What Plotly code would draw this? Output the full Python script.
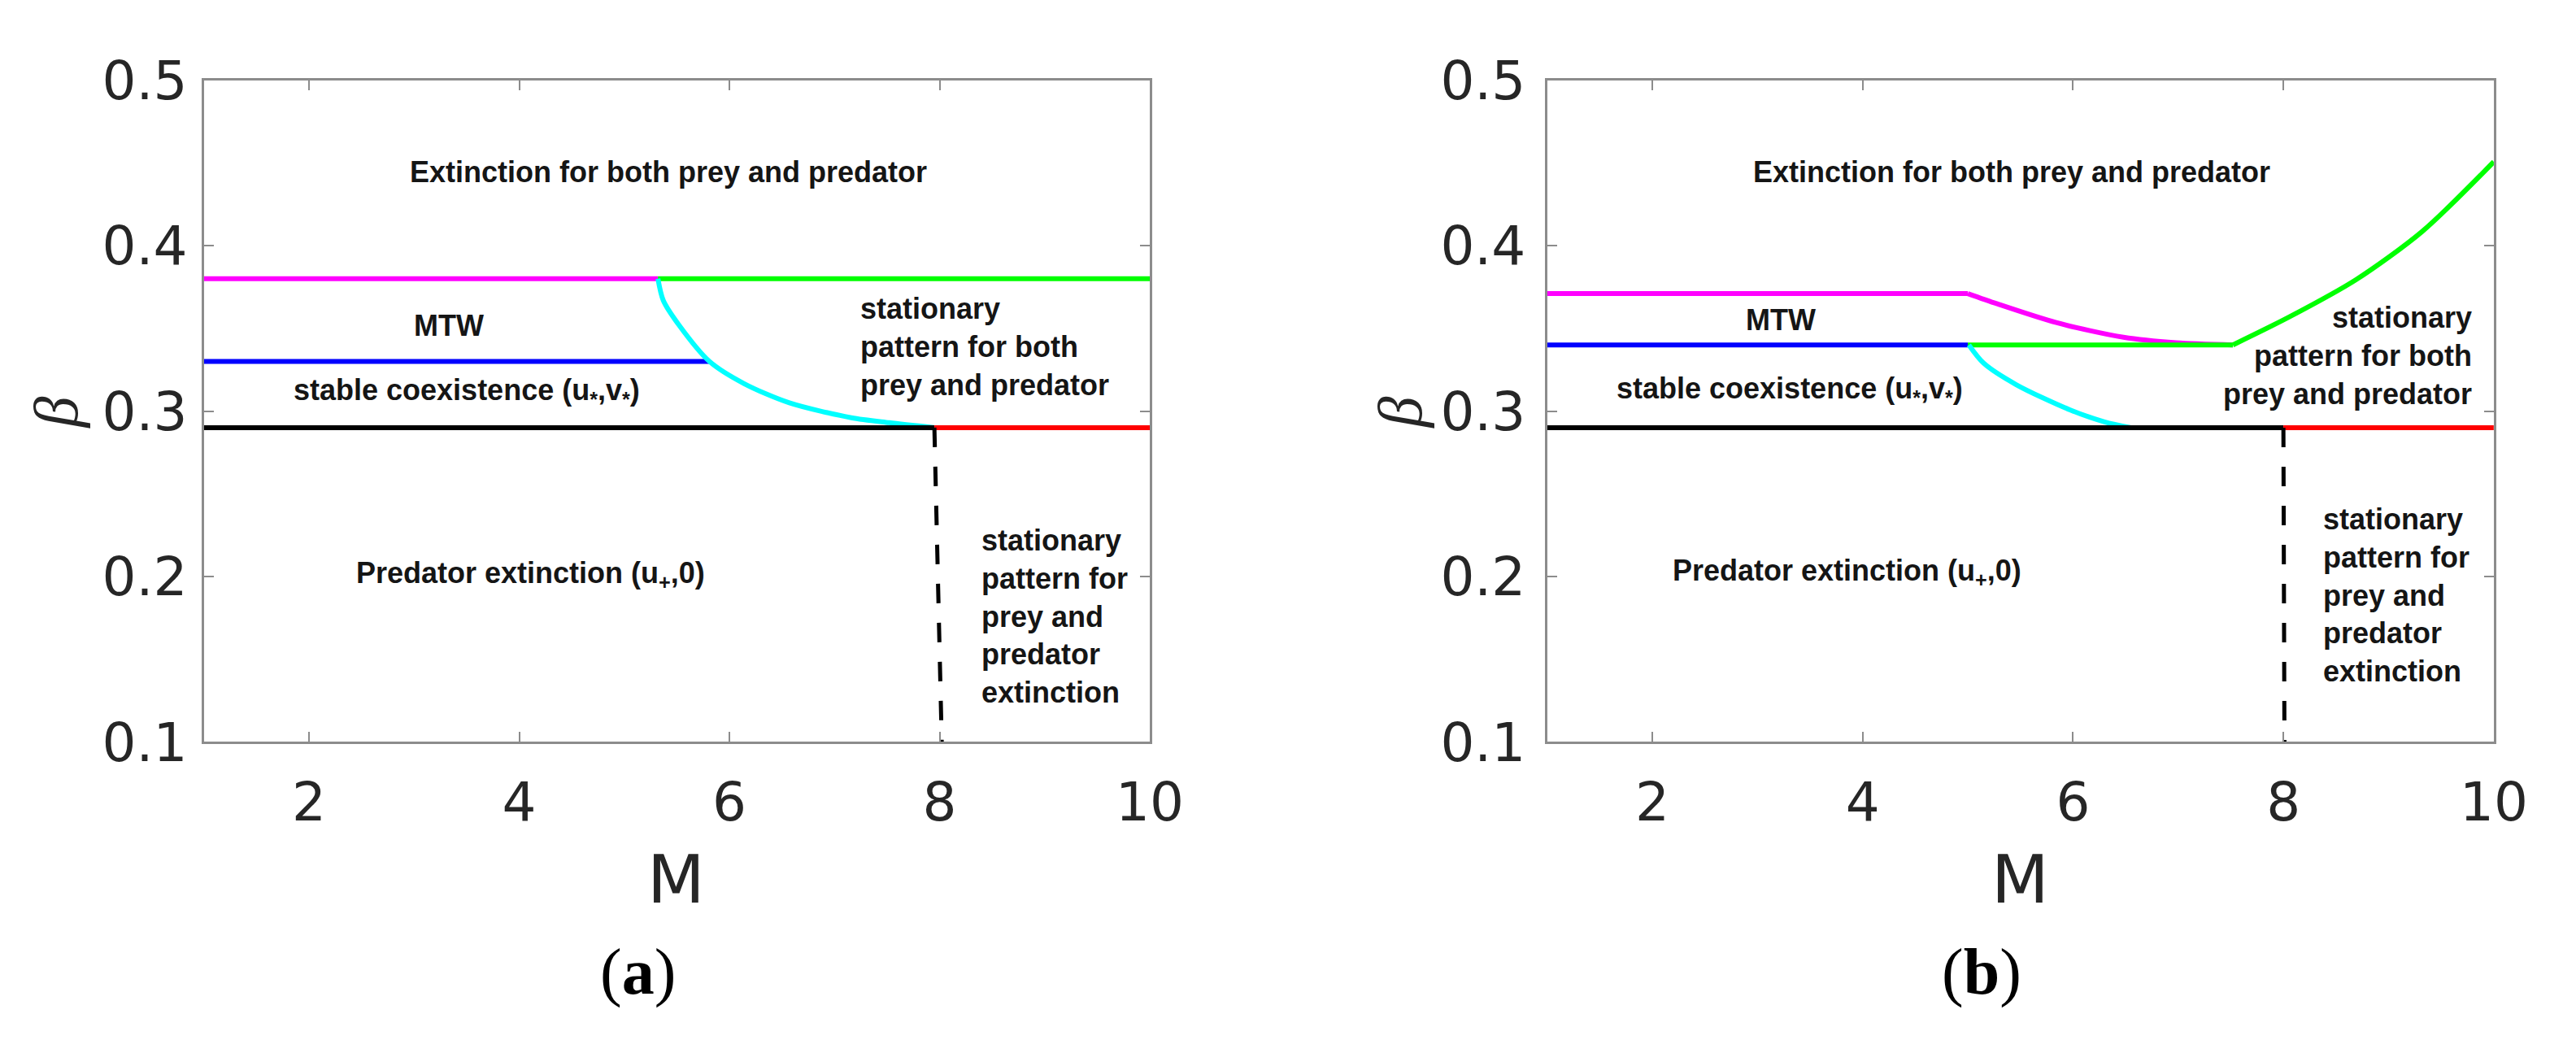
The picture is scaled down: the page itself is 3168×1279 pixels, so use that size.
import plotly.graph_objects as go

# ---------------- data ----------------
# Panel (a)
a_magenta_x = [1, 5.32]
a_magenta_y = [0.38, 0.38]
a_green_x = [5.32, 10]
a_green_y = [0.38, 0.38]
a_blue_x = [1, 5.81]
a_blue_y = [0.33, 0.33]
a_cyan_x = [5.32, 5.37, 5.52, 5.81, 6.14, 6.57, 7.16, 7.52, 7.95]
a_cyan_y = [0.380, 0.367, 0.352, 0.330, 0.3166, 0.305, 0.296, 0.293, 0.290]
a_black_x = [1, 7.95]
a_black_y = [0.29, 0.29]
a_red_x = [7.95, 10]
a_red_y = [0.29, 0.29]
a_dash_x = [7.95, 8.02]
a_dash_y = [0.29, 0.1]

# Panel (b)
b_magenta_flat_x = [1, 5.0]
b_magenta_flat_y = [0.371, 0.371]
b_magenta_curve_x = [5.0, 5.28, 5.84, 6.48, 6.98, 7.52]
b_magenta_curve_y = [0.371, 0.3648, 0.3535, 0.3446, 0.3413, 0.340]
b_green_flat_x = [5.0, 7.52]
b_green_flat_y = [0.34, 0.34]
b_green_rise_x = [7.52, 8.05, 8.69, 9.32, 10]
b_green_rise_y = [0.34, 0.3567, 0.3794, 0.4086, 0.4507]
b_blue_x = [1, 5.0]
b_blue_y = [0.34, 0.34]
b_cyan_x = [5.01, 5.15, 5.46, 5.97, 6.30, 6.55]
b_cyan_y = [0.34, 0.329, 0.316, 0.3008, 0.2935, 0.29]
b_black_x = [1, 8.0]
b_black_y = [0.29, 0.29]
b_red_x = [8.0, 10]
b_red_y = [0.29, 0.29]
b_dash_x = [8.0, 8.01]
b_dash_y = [0.29, 0.1]

x_ticks = [2, 4, 6, 8, 10]
x_tick_labels = ["2", "4", "6", "8", "10"]
y_ticks = [0.1, 0.2, 0.3, 0.4, 0.5]
y_tick_labels = ["0.1", "0.2", "0.3", "0.4", "0.5"]

# region labels: (text, x, y, xanchor)
a_labels = [
    ("Extinction for both prey and predator", 5.42, 0.4446, "center"),
    ("MTW", 3.33, 0.3516, "center"),
    ("stable coexistence (u<sub>*</sub>,v<sub>*</sub>)", 3.50, 0.3117, "center"),
    ("stationary<br>pattern for both<br>prey and predator", 7.23, 0.339, "left"),
    ("Predator extinction (u<sub>+</sub>,0)", 4.11, 0.2009, "center"),
    ("stationary<br>pattern for<br>prey and<br>predator<br>extinction", 8.38, 0.1757, "left"),
]
b_labels = [
    ("Extinction for both prey and predator", 5.42, 0.4446, "center"),
    ("MTW", 3.22, 0.355, "center"),
    ("stable coexistence (u<sub>*</sub>,v<sub>*</sub>)", 3.31, 0.3128, "center"),
    ("stationary<br>pattern for both<br>prey and predator", 9.81, 0.3335, "right"),
    ("Predator extinction (u<sub>+</sub>,0)", 3.85, 0.2024, "center"),
    ("stationary<br>pattern for<br>prey and<br>predator<br>extinction", 8.36, 0.1885, "left"),
]

# ---------------- figure ----------------
W, H = 3168, 1279
LW = 6
fig = go.Figure()

def add(x, y, color, xa, ya, dash=None, width=LW, shape="linear"):
    fig.add_trace(go.Scatter(
        x=x, y=y, mode="lines", xaxis=xa, yaxis=ya,
        line=dict(color=color, width=width, dash=dash, shape=shape,
                  smoothing=0.8 if shape == "spline" else None),
        showlegend=False, hoverinfo="skip"))

add(a_magenta_x, a_magenta_y, "#ff00ff", "x", "y")
add(a_green_x, a_green_y, "#00ff00", "x", "y")
add(a_blue_x, a_blue_y, "#0000ff", "x", "y")
add(a_cyan_x, a_cyan_y, "#00ffff", "x", "y", shape="spline")
add(a_black_x, a_black_y, "#000000", "x", "y")
add(a_red_x, a_red_y, "#ff0000", "x", "y")
add(a_dash_x, a_dash_y, "#000000", "x", "y", dash="24px,24px", width=5)

add(b_magenta_flat_x, b_magenta_flat_y, "#ff00ff", "x2", "y2")
add(b_magenta_curve_x, b_magenta_curve_y, "#ff00ff", "x2", "y2", shape="spline")
add(b_blue_x, b_blue_y, "#0000ff", "x2", "y2")
add(b_green_flat_x, b_green_flat_y, "#00ff00", "x2", "y2")
add(b_green_rise_x, b_green_rise_y, "#00ff00", "x2", "y2", shape="spline")
add(b_cyan_x, b_cyan_y, "#00ffff", "x2", "y2", shape="spline")
add(b_black_x, b_black_y, "#000000", "x2", "y2")
add(b_red_x, b_red_y, "#ff0000", "x2", "y2")
add(b_dash_x, b_dash_y, "#000000", "x2", "y2", dash="24px,24px", width=5)

y_dom = [(H - 922) / H, (H - 56) / H]
xa_dom = [246 / W, 1425 / W]
xb_dom = [1920 / W, 3100 / W]

tick_font = dict(family="DejaVu Sans, Liberation Sans, sans-serif", size=66, color="#262626")
axis_common = dict(
    showline=True, linecolor="#8c8c8c", linewidth=3, mirror="ticks",
    ticks="inside", ticklen=12, tickwidth=2, tickcolor="#8c8c8c",
    showgrid=False, zeroline=False, tickfont=tick_font,
)

fig.update_layout(
    width=W, height=H,
    paper_bgcolor="white", plot_bgcolor="white",
    margin=dict(l=0, r=0, t=0, b=0),
    xaxis=dict(domain=xa_dom, range=[1, 10], tickvals=x_ticks, ticktext=x_tick_labels,
               anchor="y", ticklabelstandoff=14, **axis_common),
    yaxis=dict(domain=y_dom, range=[0.1, 0.5], tickvals=y_ticks, ticktext=y_tick_labels,
               anchor="x", ticklabelstandoff=4, **axis_common),
    xaxis2=dict(domain=xb_dom, range=[1, 10], tickvals=x_ticks, ticktext=x_tick_labels,
                anchor="y2", ticklabelstandoff=14, **axis_common),
    yaxis2=dict(domain=y_dom, range=[0.1, 0.5], tickvals=y_ticks, ticktext=y_tick_labels,
                anchor="x2", ticklabelstandoff=10, **axis_common),
)

label_font = dict(family="Liberation Sans, Arial, sans-serif", size=36, color="#151515")
for labels, xr, yr in ((a_labels, "x", "y"), (b_labels, "x2", "y2")):
    for text, x, y, anc in labels:
        fig.add_annotation(
            text="<b>" + text + "</b>", x=x, y=y, xref=xr, yref=yr,
            xanchor=anc, yanchor="middle", align=anc, showarrow=False,
            font=label_font)

# axis titles and captions (paper coordinates)
for cx_axis, cap, beta_x in ((835, "(<b>a</b>)", 62), (2510, "(<b>b</b>)", 1737)):
    fig.add_annotation(text="M", x=cx_axis / W, y=(H - 1102) / H, xref="paper", yref="paper",
                       xanchor="center", yanchor="middle", showarrow=False,
                       font=dict(family="DejaVu Sans, Liberation Sans, sans-serif", size=82, color="#262626"))
    fig.add_annotation(text="<i>β</i>", x=beta_x / W, y=(H - 491) / H, xref="paper", yref="paper",
                       xanchor="center", yanchor="middle", showarrow=False, textangle=-90,
                       font=dict(family="Liberation Serif, Times New Roman, serif", size=76, color="#262626"))
    fig.add_annotation(text=cap, x=(cx_axis - 48) / W, y=(H - 1223) / H, xref="paper", yref="paper",
                       xanchor="center", yanchor="middle", showarrow=False,
                       font=dict(family="Liberation Serif, Times New Roman, serif", size=80, color="#000000"))

fig.write_html("out.html")
